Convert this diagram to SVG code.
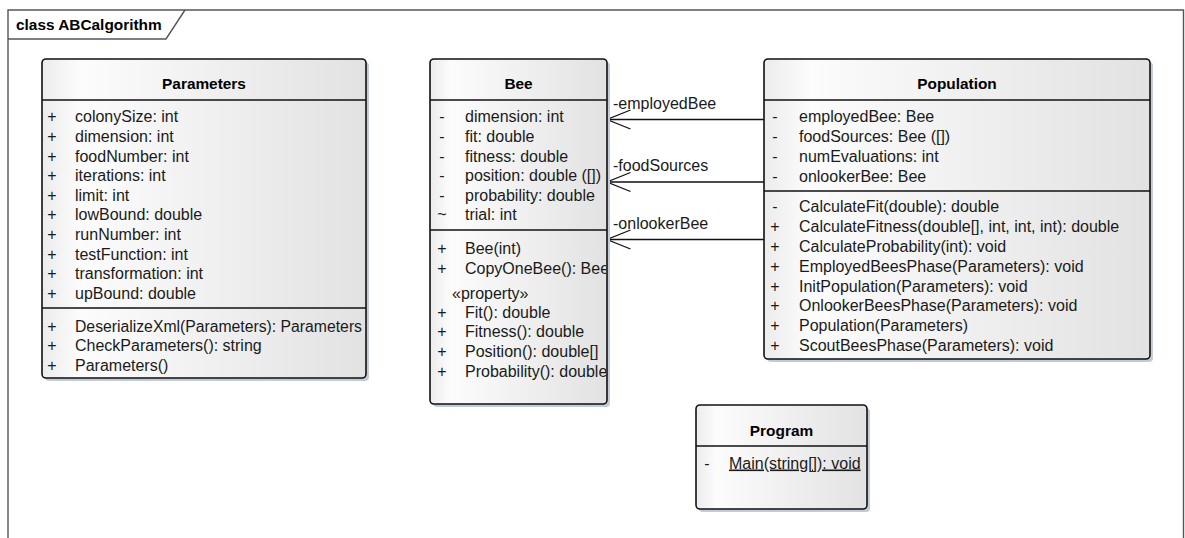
<svg xmlns="http://www.w3.org/2000/svg" width="1185" height="538" viewBox="0 0 1185 538">
<style>
text{font-family:"Liberation Sans",Arial,sans-serif;font-size:16px;fill:#1a1a1a}
.t{font-weight:bold;font-size:15.4px;fill:#000}
.h{font-weight:bold;font-size:15.4px;text-anchor:middle;fill:#000}
.box{fill:url(#g);stroke:#111;stroke-width:1.6}
.sh{fill:#c3cad8}
.sep{stroke:#111;stroke-width:1.6}
.v{text-anchor:middle}
.frame{fill:none;stroke:#555;stroke-width:1.4}
.c{stroke:#111;stroke-width:1.3;fill:none}
</style>
<defs>
<linearGradient id="g" x1="0" y1="0" x2="1" y2="0">
<stop offset="0" stop-color="#ececec"/>
<stop offset="0.12" stop-color="#fcfcfc"/>
<stop offset="0.25" stop-color="#f8f8f8"/>
<stop offset="1" stop-color="#e2e2e2"/>
</linearGradient>
<marker id="open" markerUnits="userSpaceOnUse" markerWidth="30" markerHeight="30" refX="0" refY="0" orient="auto" overflow="visible">
<path d="M-23.5,-9.5 L0,0 L-23.5,9.5" fill="none" stroke="#111" stroke-width="1.3"/>
</marker>
<clipPath id="beeclip"><rect x="430" y="59" width="176" height="345"/></clipPath>
</defs>
<rect width="1185" height="538" fill="#fff"/>
<g id="frame">
<path class="frame" d="M8,538 V10 H1183.5 V538"/>
<path class="frame" d="M8,39 H166 L185,10"/>
<text class="t" x="16" y="30">class ABCalgorithm</text>
</g>
<g id="connectors">
<line class="c" x1="764" y1="119.5" x2="607" y2="119.5" marker-end="url(#open)"/>
<line class="c" x1="764" y1="182" x2="607" y2="182" marker-end="url(#open)"/>
<line class="c" x1="764" y1="239.5" x2="607" y2="239.5" marker-end="url(#open)"/>
<text x="613" y="108.5">-employedBee</text>
<text x="613" y="170.5">-foodSources</text>
<text x="613" y="228.5">-onlookerBee</text>
</g>
<g id="Parameters">
<rect class="sh" x="45" y="62" width="324" height="319" rx="4"/>
<rect class="box" x="42" y="59" width="324" height="319" rx="4"/>
<line class="sep" x1="42" y1="100" x2="366" y2="100"/>
<line class="sep" x1="42" y1="308" x2="366" y2="308"/>
<text class="h" x="204" y="88.5">Parameters</text>
<g>
<text class="v" x="52" y="122">+</text><text x="75" y="122">colonySize: int</text>
<text class="v" x="52" y="142">+</text><text x="75" y="142">dimension: int</text>
<text class="v" x="52" y="161.5">+</text><text x="75" y="161.5">foodNumber: int</text>
<text class="v" x="52" y="181">+</text><text x="75" y="181">iterations: int</text>
<text class="v" x="52" y="200.5">+</text><text x="75" y="200.5">limit: int</text>
<text class="v" x="52" y="220">+</text><text x="75" y="220">lowBound: double</text>
<text class="v" x="52" y="240">+</text><text x="75" y="240">runNumber: int</text>
<text class="v" x="52" y="259.5">+</text><text x="75" y="259.5">testFunction: int</text>
<text class="v" x="52" y="279">+</text><text x="75" y="279">transformation: int</text>
<text class="v" x="52" y="298.5">+</text><text x="75" y="298.5">upBound: double</text>
<text class="v" x="52" y="331.5">+</text><text x="75" y="331.5" textLength="287" lengthAdjust="spacingAndGlyphs">DeserializeXml(Parameters): Parameters</text>
<text class="v" x="52" y="351">+</text><text x="75" y="351">CheckParameters(): string</text>
<text class="v" x="52" y="370.5">+</text><text x="75" y="370.5">Parameters()</text>
</g>
</g>
<g id="Bee">
<rect class="sh" x="433" y="62" width="177" height="345" rx="4"/>
<rect class="box" x="430" y="59" width="177" height="345" rx="4"/>
<line class="sep" x1="430" y1="100" x2="607" y2="100"/>
<line class="sep" x1="430" y1="230" x2="607" y2="230"/>
<text class="h" x="518.5" y="88.5">Bee</text>
<g clip-path="url(#beeclip)">
<text class="v" x="442" y="122">-</text><text x="465" y="122">dimension: int</text>
<text class="v" x="442" y="142">-</text><text x="465" y="142">fit: double</text>
<text class="v" x="442" y="161.5">-</text><text x="465" y="161.5">fitness: double</text>
<text class="v" x="442" y="181">-</text><text x="465" y="181">position: double ([])</text>
<text class="v" x="442" y="200.5">-</text><text x="465" y="200.5">probability: double</text>
<text class="v" x="442" y="220">~</text><text x="465" y="220">trial: int</text>
<text class="v" x="442" y="254">+</text><text x="465" y="254">Bee(int)</text>
<text class="v" x="442" y="274">+</text><text x="465" y="274">CopyOneBee(): Bee</text>
<text x="452" y="299">«property»</text>
<text class="v" x="442" y="317.5">+</text><text x="465" y="317.5">Fit(): double</text>
<text class="v" x="442" y="337">+</text><text x="465" y="337">Fitness(): double</text>
<text class="v" x="442" y="357">+</text><text x="465" y="357">Position(): double[]</text>
<text class="v" x="442" y="377">+</text><text x="465" y="377">Probability(): double</text>
</g>
</g>
<g id="Population">
<rect class="sh" x="767" y="62" width="386" height="300" rx="4"/>
<rect class="box" x="764" y="59" width="386" height="300" rx="4"/>
<line class="sep" x1="764" y1="100" x2="1150" y2="100"/>
<line class="sep" x1="764" y1="191" x2="1150" y2="191"/>
<text class="h" x="957" y="88.5">Population</text>
<g>
<text class="v" x="775" y="122">-</text><text x="799" y="122">employedBee: Bee</text>
<text class="v" x="775" y="142">-</text><text x="799" y="142">foodSources: Bee ([])</text>
<text class="v" x="775" y="161.5">-</text><text x="799" y="161.5">numEvaluations: int</text>
<text class="v" x="775" y="181.5">-</text><text x="799" y="181.5">onlookerBee: Bee</text>
<text class="v" x="775" y="212">-</text><text x="799" y="212">CalculateFit(double): double</text>
<text class="v" x="775" y="232">+</text><text x="799" y="232">CalculateFitness(double[], int, int, int): double</text>
<text class="v" x="775" y="252">+</text><text x="799" y="252">CalculateProbability(int): void</text>
<text class="v" x="775" y="272">+</text><text x="799" y="272">EmployedBeesPhase(Parameters): void</text>
<text class="v" x="775" y="291.5">+</text><text x="799" y="291.5">InitPopulation(Parameters): void</text>
<text class="v" x="775" y="311">+</text><text x="799" y="311">OnlookerBeesPhase(Parameters): void</text>
<text class="v" x="775" y="331">+</text><text x="799" y="331">Population(Parameters)</text>
<text class="v" x="775" y="350.5">+</text><text x="799" y="350.5">ScoutBeesPhase(Parameters): void</text>
</g>
</g>
<g id="Program">
<rect class="sh" x="699" y="408" width="171" height="104" rx="4"/>
<rect class="box" x="696" y="405" width="171" height="104" rx="4"/>
<line class="sep" x1="696" y1="446" x2="867" y2="446"/>
<text class="h" x="781.5" y="435.5">Program</text>
<text class="v" x="707" y="468.5">-</text><text x="729" y="468.5" text-decoration="underline">Main(string[]): void</text>
</g>
</svg>
